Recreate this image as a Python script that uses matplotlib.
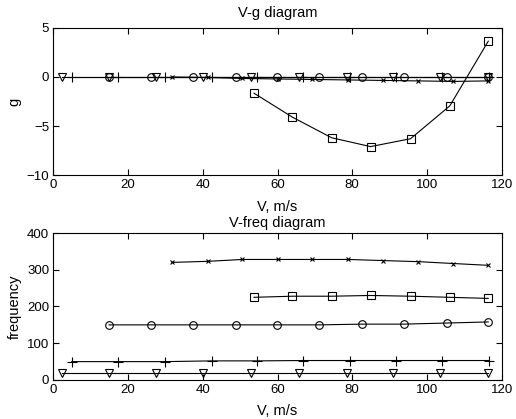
import matplotlib
matplotlib.use("Agg")
import matplotlib.pyplot as plt

plt.rcParams["font.family"] = ["Liberation Sans", "DejaVu Sans"]
plt.rcParams["font.size"] = 9

# speeds (m/s) and results for each mode
v_tri = [2.2, 15.0, 27.5, 40.0, 52.8, 65.8, 78.5, 91.0, 103.5, 116.4]
f_tri = [20, 20, 20, 20, 20, 20, 20, 20, 20, 20]
g_tri = [0, 0, 0, 0, 0, 0, 0, 0, 0, 0]

v_plus = [4.9, 17.4, 29.9, 42.4, 54.6, 66.9, 79.4, 91.6, 103.9, 116.6]
f_plus = [50, 50, 50, 52, 52, 53, 53, 53, 53, 53]
g_plus = [0, 0, 0, 0, 0, 0, 0, 0, 0, 0]

v_circ = [14.9, 26.1, 37.5, 48.8, 59.8, 71.2, 82.5, 93.8, 105.3, 116.4]
f_circ = [150, 150, 150, 150, 150, 150, 152, 152, 155, 158]
g_circ = [0, 0, 0, 0, 0, 0, 0, 0, 0, 0]

v_sq = [53.7, 64.0, 74.5, 84.9, 95.6, 106.1, 116.4]
f_sq = [225, 228, 228, 230, 228, 225, 222]
g_sq = [-1.65, -4.1, -6.2, -7.1, -6.3, -2.95, 3.65]

v_x = [31.8, 41.5, 50.6, 60.0, 69.3, 78.8, 88.3, 97.7, 107.0, 116.4]
f_x = [320, 323, 328, 328, 328, 328, 325, 322, 317, 312]
g_x = [0, -0.05, -0.15, -0.2, -0.25, -0.3, -0.35, -0.4, -0.45, -0.4]

series = [
    (v_tri, g_tri, f_tri, "v", 5.5),
    (v_plus, g_plus, f_plus, "+", 6.5),
    (v_circ, g_circ, f_circ, "o", 5.5),
    (v_sq, g_sq, f_sq, "s", 6),
    (v_x, g_x, f_x, "x", 3.5),
]

fig = plt.figure(figsize=(5.16, 4.19), dpi=100)
ax1 = fig.add_axes([0.1033, 0.5823, 0.869, 0.3509])
ax2 = fig.add_axes([0.1033, 0.0931, 0.869, 0.3508])

for v, g, f, m, ms in series:
    kw = dict(color="k", lw=0.8, marker=m, ms=ms, mfc="none", mec="k", mew=0.8)
    ax1.plot(v, g, **kw)
    ax2.plot(v, f, **kw)

lab = dict(fontsize=10.5)
ax1.set_xlim(0, 120)
ax1.set_ylim(-10, 5)
ax1.set_yticks([-10, -5, 0, 5])
ax1.set_title("V-g diagram", pad=8, **lab)
ax1.set_xlabel("V, m/s", labelpad=6, **lab)
ax1.set_ylabel("g", labelpad=4, **lab)

ax2.set_xlim(0, 120)
ax2.set_ylim(0, 400)
ax2.set_yticks([0, 100, 200, 300, 400])
ax2.set_title("V-freq diagram", pad=4, **lab)
ax2.set_xlabel("V, m/s", labelpad=5.5, **lab)
ax2.set_ylabel("frequency", labelpad=4, **lab)

for ax in (ax1, ax2):
    ax.set_xticks(range(0, 121, 20))
    ax.tick_params(direction="in", top=True, right=True, length=4, width=0.8,
                   pad=3, labelsize=9.5)
    for s in ax.spines.values():
        s.set_linewidth(0.8)

fig.savefig("out.png", dpi=100)
